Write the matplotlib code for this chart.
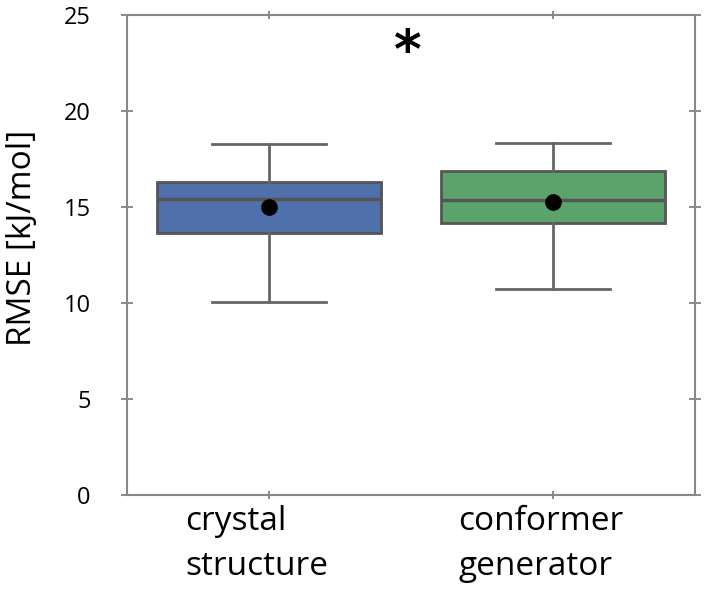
import matplotlib
matplotlib.use("Agg")
import matplotlib.pyplot as plt
import matplotlib.transforms as mtrans

# values
groups = ["crystal\nstructure", "conformer\ngenerator"]
whislo = [10.07, 10.71]
q1 = [13.66, 14.15]
med = [15.40, 15.36]
q3 = [16.32, 16.89]
whishi = [18.27, 18.32]
means = [15.02, 15.24]
colors = ["#4F70AB", "#5AA46C"]

plt.rcParams['font.family'] = ['Open Sans', 'DejaVu Sans']

stats = []
for i in range(len(groups)):
    stats.append(dict(whislo=whislo[i], q1=q1[i], med=med[i], q3=q3[i],
                      whishi=whishi[i], mean=means[i], fliers=[]))

fig = plt.figure(figsize=(7.09, 5.94), dpi=100)
ax = fig.add_axes([0.179, 0.1667, 0.801, 0.808])

edge = "#555555"
bp = ax.bxp(stats, positions=[1, 2], widths=0.79, patch_artist=True,
            showmeans=True, showfliers=False,
            boxprops=dict(edgecolor=edge, linewidth=2),
            medianprops=dict(color=edge, linewidth=2.5),
            whiskerprops=dict(color="#666666", linewidth=2),
            capprops=dict(color="#666666", linewidth=2),
            meanprops=dict(marker="o", markerfacecolor="black",
                           markeredgecolor="black", markersize=11))
for patch, c in zip(bp['boxes'], colors):
    patch.set_facecolor(c)
for cap in bp['caps']:
    x = cap.get_xdata()
    mid = (x[0] + x[1]) / 2
    cap.set_xdata([mid - 0.2, mid + 0.2])

ax.set_xlim(0.5, 2.5)
ax.set_ylim(0, 25)
ax.set_yticks([0, 5, 10, 15, 20, 25])
ax.set_xticks([1, 2])
ax.set_xticklabels(groups, fontsize=24, multialignment='left', linespacing=1.5)
ax.tick_params(axis='y', which='both', direction='inout', length=8, width=1.2,
               color="#777777", left=True, right=True, labelsize=17, pad=22)
ax.tick_params(axis='x', which='both', direction='inout', length=6, width=1.2,
               color="#777777", top=True, bottom=True, pad=4)
# labels sit a little left of the ticks in the original
shift = mtrans.ScaledTranslation(-12 / 100, 0, fig.dpi_scale_trans)
for lbl in ax.get_xticklabels():
    lbl.set_transform(lbl.get_transform() + shift)
for s in ax.spines.values():
    s.set_color("#888888")
    s.set_linewidth(1.5)

ax.set_ylabel("RMSE [kJ/mol]", fontsize=24)
ax.yaxis.set_label_coords(-0.155, 0.535)
ax.text(1.49, 23.0, "*", ha='center', va='center', fontsize=38,
        fontweight='bold', family='DejaVu Sans')

fig.savefig("out.png", dpi=100)
